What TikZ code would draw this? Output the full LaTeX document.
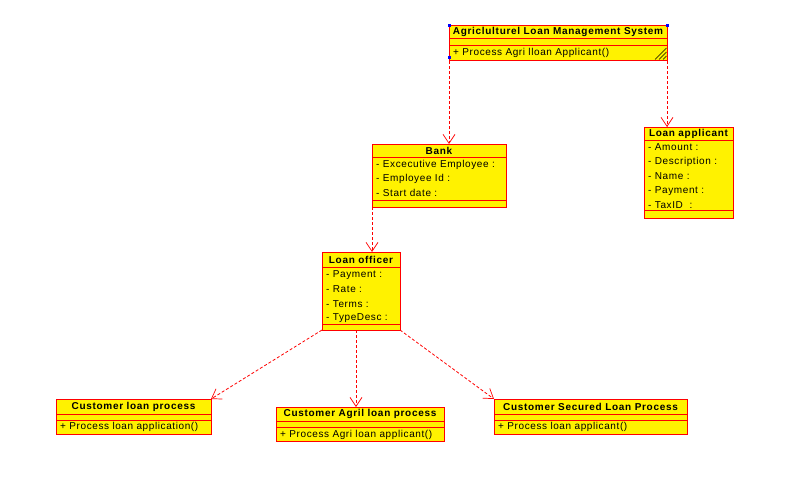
\documentclass[tikz,border=0pt]{standalone}
\usepackage{fontspec}
\setmainfont{Liberation Sans}
\usetikzlibrary{arrows.meta}
\definecolor{umlred}{RGB}{255,0,0}
\begin{document}
\begin{tikzpicture}[x=1pt,y=-1pt,
 cls/.style={draw=umlred, fill=yellow, line width=0.9pt, anchor=north west, inner sep=0pt, outer sep=0pt},
 ttl/.style={font=\fontsize{10}{12}\selectfont\bfseries\addfontfeature{LetterSpace=7}, inner sep=0pt},
 txt/.style={font=\fontsize{10}{12}\selectfont\addfontfeature{LetterSpace=6}, anchor=west, inner sep=0pt},
 sepl/.style={draw=umlred, line width=0.9pt},
 dep/.style={draw=umlred, color=umlred, dash pattern=on 3pt off 2pt, line width=0.8pt, -{Straight Barb[length=9pt,width=12pt,line width=0.7pt]}},
 handle/.style={fill=blue, draw=none}
]
\fill[white] (0,0) rectangle (807,477);
\useasboundingbox (0,0) rectangle (807,477);

% System
\node[cls, minimum width=218pt, minimum height=35pt] (sys) at (449,25) {};
\draw[sepl] (449,38.5) -- (667,38.5);
\draw[sepl] (449,45.5) -- (667,45.5);
\node[ttl] (systtl) at (558,31.8) {Agriclulturel Loan Management System};
\node[txt] (sysm) at (453,52.8) {+ Process Agri lloan Applicant()};
\fill[handle] (447.5,23.5) rectangle (450.5,26.5);
\fill[handle] (665.5,23.5) rectangle (668.5,26.5);
\fill[handle] (447.5,56) rectangle (450.5,59);
\draw[black, line width=0.5pt] (655,59.5) -- (666.5,48) (659,59.5) -- (666.5,52) (663,59.5) -- (666.5,56);

% Bank
\node[cls, minimum width=134pt, minimum height=63pt] (bank) at (372,144) {};
\draw[sepl] (372,157.3) -- (506,157.3);
\draw[sepl] (372,200) -- (506,200);
\node[ttl] (bankttl) at (439,151) {Bank};
\node[txt] (bank1) at (376,164.5) {- Excecutive Employee :};
\node[txt] (bank2) at (376,178.8) {- Employee Id :};
\node[txt] (bank3) at (376,193) {- Start date :};

% Loan applicant
\node[cls, minimum width=89pt, minimum height=91pt] (appl) at (644,127) {};
\draw[sepl] (644,140.7) -- (733,140.7);
\draw[sepl] (644,210.7) -- (733,210.7);
\node[ttl] (applttl) at (688.5,134) {Loan applicant};
\node[txt] (appl1) at (648,147.5) {- Amount :};
\node[txt] (appl2) at (648,162) {- Description :};
\node[txt] (appl3) at (648,176.5) {- Name :};
\node[txt] (appl4) at (648,190.8) {- Payment :};
\node[txt] (appl5) at (648,205) {- TaxID~ :};

% Loan officer
\node[cls, minimum width=78pt, minimum height=78pt] (off) at (322,252) {};
\draw[sepl] (322,267.3) -- (400,267.3);
\draw[sepl] (322,324) -- (400,324);
\node[ttl] (offttl) at (361,260) {Loan officer};
\node[txt] (off1) at (326,275) {- Payment :};
\node[txt] (off2) at (326,289) {- Rate :};
\node[txt] (off3) at (326,304) {- Terms :};
\node[txt] (off4) at (326,318) {- TypeDesc :};

% Customer loan process
\node[cls, minimum width=155pt, minimum height=35pt] (cp) at (56,399) {};
\draw[sepl] (56,414) -- (211,414);
\draw[sepl] (56,420.7) -- (211,420.7);
\node[ttl] (cpttl) at (133.5,406.7) {Customer loan process};
\node[txt] (cpm) at (60,427.3) {+ Process loan application()};

% Customer Agril loan process
\node[cls, minimum width=168pt, minimum height=34pt] (ca) at (276,407) {};
\draw[sepl] (276,421) -- (444,421);
\draw[sepl] (276,427.7) -- (444,427.7);
\node[ttl] (cattl) at (360,414) {Customer Agril loan process};
\node[txt] (cam) at (280,434.8) {+ Process Agri loan applicant()};

% Customer Secured Loan Process
\node[cls, minimum width=193pt, minimum height=35pt] (cs) at (494,399) {};
\draw[sepl] (494,414) -- (687,414);
\draw[sepl] (494,420.7) -- (687,420.7);
\node[ttl] (csttl) at (590.5,406.7) {Customer Secured Loan Process};
\node[txt] (csm) at (498,427.3) {+ Process loan applicant()};

% Dependencies
\coordinate (offmid) at (356,330);
\coordinate (sysl) at ([yshift=-1pt]sys.south west);
\coordinate (sysr) at ([yshift=-1pt]sys.south east);
\draw[dep] (sysl) -- (bank.north -| sysl);
\draw[dep] (sysr) -- (appl.north -| sysr);
\draw[dep] (bank.south west) -- (off.north -| bank.south west);
\draw[dep] (off.south west) -- (cp.north east);
\draw[dep] (offmid) -- (ca.north -| offmid);
\draw[dep] (off.south east) -- (cs.north west);
\end{tikzpicture}
\end{document}
